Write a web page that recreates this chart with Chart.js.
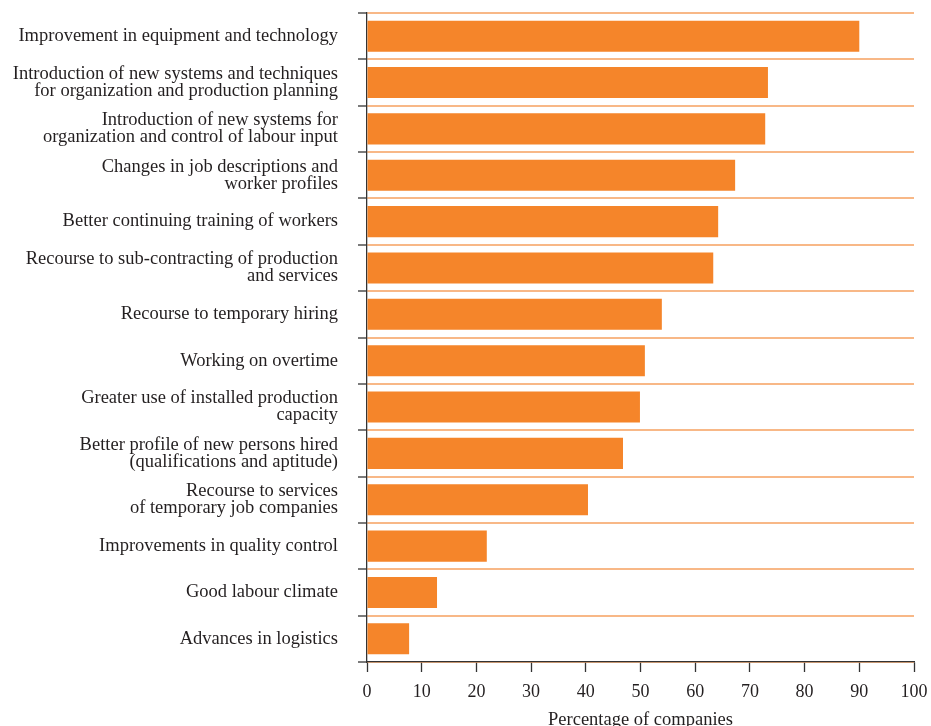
<!DOCTYPE html>
<html>
<head>
<meta charset="utf-8">
<script src="https://cdn.jsdelivr.net/npm/chart.js@4.4.0/dist/chart.umd.min.js"></script>
<style>
  html, body { margin: 0; padding: 0; background: #fff; }
  #wrap { width: 931px; height: 726px; }
</style>
</head>
<body>
<div id="wrap"><canvas id="measuresChart"></canvas></div>
<script>
    // categories (multi-line labels as arrays)
    const categories = [
      'Improvement in equipment and technology',
      ['Introduction of new systems and techniques', 'for organization and production planning'],
      ['Introduction of new systems for', 'organization and control of labour input'],
      ['Changes in job descriptions and', 'worker profiles'],
      'Better continuing training of workers',
      ['Recourse to sub-contracting of production', 'and services'],
      'Recourse to temporary hiring',
      'Working on overtime',
      ['Greater use of installed production', 'capacity'],
      ['Better profile of new persons hired', '(qualifications and aptitude)'],
      ['Recourse to services', 'of temporary job companies'],
      'Improvements in quality control',
      'Good labour climate',
      'Advances in logistics'
    ];

    // percentage of companies
    const percentages = [90, 73.3, 72.8, 67.3, 64.2, 63.3, 53.9, 50.8, 49.9, 46.8, 40.4, 21.9, 12.8, 7.7];

    const xTicks = [0, 10, 20, 30, 40, 50, 60, 70, 80, 90, 100];

    const serif = '"Liberation Serif", "DejaVu Serif", serif';
    const ink = '#231f20';

    const config = {
      type: 'bar',
      data: {
        labels: categories,
        datasets: [{
          data: percentages,
          backgroundColor: '#F5852A',
          borderWidth: 0,
          categoryPercentage: 1,
          barPercentage: 0.67
        }]
      },
      options: {
        indexAxis: 'y',
        responsive: true,
        maintainAspectRatio: false,
        animation: false,
        layout: { padding: { top: 13, right: 17, left: 0, bottom: 0 } },
        plugins: {
          legend: { display: false },
          tooltip: { enabled: false }
        },
        scales: {
          x: {
            min: 0,
            max: 100,
            afterBuildTicks: (scale) => { scale.ticks = xTicks.map(v => ({ value: v })); },
            afterFit: (scale) => {
              scale.height = 64;
              scale.paddingLeft = 0;
              scale.paddingRight = 0;
            },
            grid: {
              drawOnChartArea: false,
              drawTicks: true,
              tickLength: 10,
              tickColor: '#333',
              tickWidth: 1.3
            },
            border: { display: true, color: '#333', width: 1.3 },
            ticks: {
              color: ink,
              padding: 9,
              font: { family: serif, size: 18 },
              maxRotation: 0
            },
            title: {
              display: true,
              text: 'Percentage of companies',
              color: ink,
              padding: { top: 0, bottom: -5 },
              font: { family: serif, size: 18.5 }
            }
          },
          y: {
            afterFit: (scale) => {
              scale.width = 367;
              scale.paddingTop = 0;
              scale.paddingBottom = 0;
            },
            grid: {
              offset: true,
              color: 'rgba(245,160,95,0.75)',
              lineWidth: 2,
              drawTicks: true,
              tickLength: 9,
              tickColor: '#333',
              tickWidth: 1.3
            },
            border: { display: true, color: '#333', width: 1.3 },
            ticks: {
              color: ink,
              padding: 20,
              font: { family: serif, size: 18.5, lineHeight: 0.93 }
            }
          }
        }
      }
    };

    const measuresChart = new Chart(
      document.getElementById('measuresChart'),
      config
    );
</script>
</body>
</html>
